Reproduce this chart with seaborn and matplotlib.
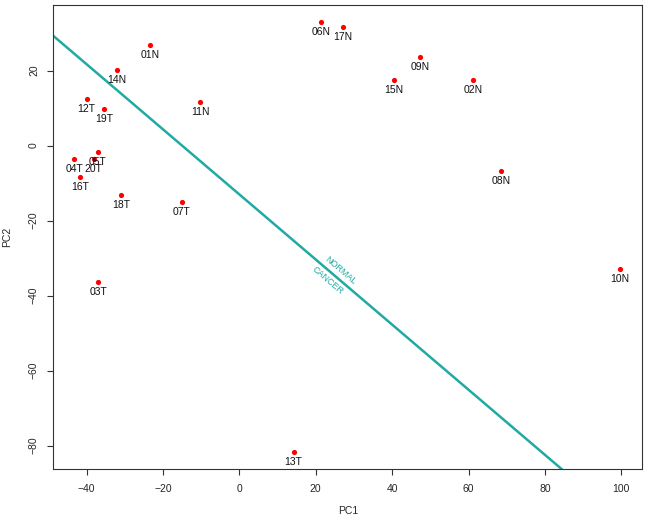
import numpy as np
import pandas as pd
import matplotlib
matplotlib.use("Agg")
import matplotlib.pyplot as plt
import seaborn as sns

# sample scores on the first two principal components
samples = ["01N", "02N", "03T", "04T", "05T", "06N", "07T", "08N", "09N", "10N",
           "11N", "12T", "13T", "14N", "15N", "16T", "17N", "18T", "19T", "20T"]
pc1 = [-23.4, 61.3, -36.9, -43.2, -37.1, 21.3, -15.1, 68.5, 47.4, 99.7,
       -10.3, -40.0, 14.2, -32.0, 40.4, -41.6, 27.1, -31.0, -35.5, -38.1]
pc2 = [26.9, 17.6, -36.3, -3.6, -1.7, 32.9, -15.1, -6.8, 23.6, -33.0,
       11.7, 12.5, -81.7, 20.2, 17.6, -8.3, 31.7, -13.2, 9.7, -3.5]

# separating line between the groups
line_intercept = -13.0
line_slope = -0.868
side_labels = ["NORMAL", "CANCER"]

sns.set_style("ticks")
plt.rcParams["font.family"] = ["Liberation Sans", "DejaVu Sans"]
plt.rcParams["axes.unicode_minus"] = True

df = pd.DataFrame({"sample": samples, "PC1": pc1, "PC2": pc2})

fig = plt.figure(figsize=(6.49, 5.24), dpi=100)
ax = fig.add_axes([0.0821, 0.1044, 0.9076, 0.8861])

sns.scatterplot(data=df, x="PC1", y="PC2", color="red", s=14, linewidth=0,
                ax=ax, zorder=3)
for _, r in df.iterrows():
    ax.annotate(r["sample"], (r["PC1"], r["PC2"]), xytext=(0, -7.2),
                textcoords="offset points", ha="center", va="center",
                fontsize=7.5, color="#111111", zorder=4)

ax.set_xlim(-48.7, 105.5)
ax.set_ylim(-86.3, 37.5)
teal = "#20aaa3"
ax.axline((0, line_intercept), slope=line_slope, color=teal, lw=1.8, zorder=2)

# rotate the group labels along the line
p0 = ax.transData.transform((0, line_intercept))
p1 = ax.transData.transform((10, line_intercept + 10 * line_slope))
angle = np.degrees(np.arctan2(p1[1] - p0[1], p1[0] - p0[0]))
ax.text(26.4, -33.2, side_labels[0], rotation=angle, rotation_mode="anchor",
        ha="center", va="center", fontsize=6.5, color=teal)
ax.text(23.2, -36.0, side_labels[1], rotation=angle, rotation_mode="anchor",
        ha="center", va="center", fontsize=6.5, color=teal)

ax.set_xticks(np.arange(-40, 101, 20))
ax.set_yticks(np.arange(-80, 21, 20))
ax.tick_params(axis="both", length=4.3, width=0.8, color="#333333",
               labelsize=7.5, pad=6)
ax.tick_params(axis="y", labelrotation=90)
for lab in ax.get_yticklabels():
    lab.set_va("center")
ax.set_xlabel("PC1", fontsize=7.5, labelpad=9)
ax.set_ylabel("PC2", fontsize=7.5, labelpad=12)
for sp in ax.spines.values():
    sp.set_visible(True)
    sp.set_color("#333333")
    sp.set_linewidth(0.8)

fig.savefig("out.png", dpi=100)
